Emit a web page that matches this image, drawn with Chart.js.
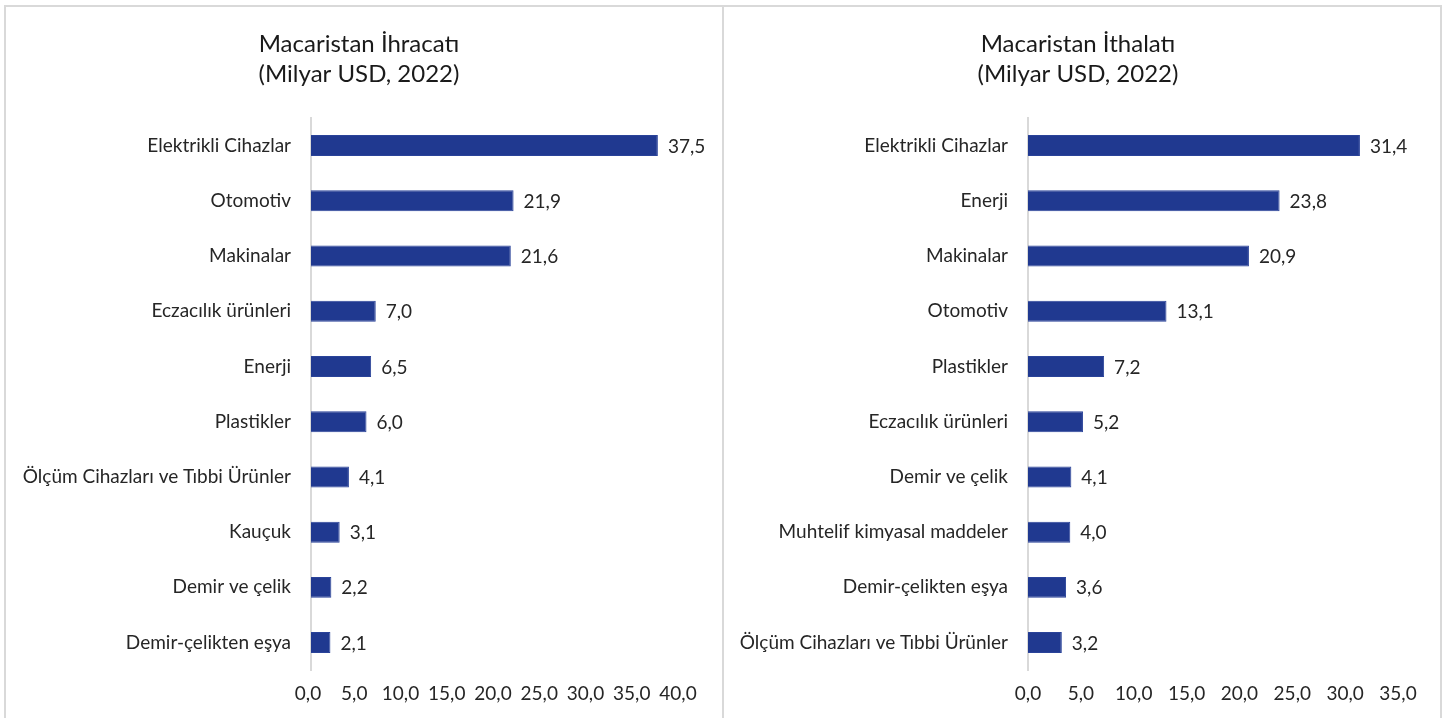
<!DOCTYPE html>
<html>
<head>
<meta charset="utf-8">
<script src="https://cdn.jsdelivr.net/npm/chart.js@4.4.1/dist/chart.umd.min.js"></script>
<style>
    body { margin: 0; background: #fff; overflow: hidden; }
    #frame { position: absolute; left: 4px; top: 5px; width: 1434px; height: 720px; border: 2px solid #d9d9d9; }
    #divider { position: absolute; left: 722px; top: 5px; width: 2px; height: 720px; background: #d9d9d9; }
    .box { position: absolute; top: 7px; height: 711px; }
    #leftBox { left: 6px; width: 716px; }
    #rightBox { left: 724px; width: 714px; }
</style>
</head>
<body>
<div id="frame"></div>
<div id="divider"></div>
<div class="box" id="leftBox"><canvas id="exportChart"></canvas></div>
<div class="box" id="rightBox"><canvas id="importChart"></canvas></div>

<script>
// Ihracat (export) data
var exportLabels = ['Elektrikli Cihazlar', 'Otomotiv', 'Makinalar', 'Eczacılık ürünleri', 'Enerji',
    'Plastikler', 'Ölçüm Cihazları ve Tıbbi Ürünler', 'Kauçuk', 'Demir ve çelik', 'Demir-çelikten eşya'];
var exportValues = [37.5, 21.9, 21.6, 7.0, 6.5, 6.0, 4.1, 3.1, 2.2, 2.1];

// Ithalat (import) data
var importLabels = ['Elektrikli Cihazlar', 'Enerji', 'Makinalar', 'Otomotiv', 'Plastikler',
    'Eczacılık ürünleri', 'Demir ve çelik', 'Muhtelif kimyasal maddeler', 'Demir-çelikten eşya',
    'Ölçüm Cihazları ve Tıbbi Ürünler'];
var importValues = [31.4, 23.8, 20.9, 13.1, 7.2, 5.2, 4.1, 4.0, 3.6, 3.2];

var exportMax = 40;
var importMax = 35;

var textColor = '#262626';
var fontFamily = 'Lato, "Liberation Sans", sans-serif';

function fmt(v) {
    return Number(v).toFixed(1).replace('.', ',');
}

// value labels at the end of each bar
var valueLabels = {
    id: 'valueLabels',
    afterDatasetsDraw: function(chart) {
        var ctx = chart.ctx;
        var meta = chart.getDatasetMeta(0);
        var data = chart.data.datasets[0].data;
        ctx.save();
        ctx.font = '19px ' + fontFamily;
        ctx.fillStyle = textColor;
        ctx.textAlign = 'left';
        ctx.textBaseline = 'middle';
        meta.data.forEach(function(bar, i) {
            ctx.fillText(fmt(data[i]), bar.x + 10, bar.y + 1);
        });
        ctx.restore();
    }
};

// two-line title centred on the panel (the built-in one follows the layout padding)
var panelTitle = {
    id: 'panelTitle',
    afterDraw: function(chart, args, opts) {
        var ctx = chart.ctx;
        ctx.save();
        ctx.font = '24px ' + fontFamily;
        ctx.fillStyle = '#1a1a1a';
        ctx.textAlign = 'center';
        ctx.textBaseline = 'middle';
        opts.lines.forEach(function(line, i) {
            ctx.fillText(line, chart.width / 2 + opts.shift, 37 + i * 30);
        });
        ctx.restore();
    }
};

function makeChart(id, title, titleShift, labels, values, max, axisWidth, rightPad, tickShift) {
    var ctx = document.getElementById(id).getContext('2d');
    return new Chart(ctx, {
        type: 'bar',
        data: {
            labels: labels,
            datasets: [{
                data: values,
                backgroundColor: '#203990',
                borderColor: '#2a4399',
                borderWidth: 1,
                categoryPercentage: 1.0,
                barPercentage: 0.38
            }]
        },
        options: {
            indexAxis: 'y',
            responsive: true,
            maintainAspectRatio: false,
            animation: false,
            layout: {
                padding: { left: 0, right: rightPad, top: 111, bottom: 1 }
            },
            plugins: {
                legend: { display: false },
                tooltip: { enabled: false },
                title: { display: false },
                panelTitle: { lines: title, shift: titleShift }
            },
            scales: {
                x: {
                    min: 0,
                    max: max,
                    grid: { display: false, drawTicks: false },
                    border: { display: false },
                    ticks: {
                        stepSize: 5,
                        padding: 12,
                        labelOffset: tickShift,
                        maxRotation: 0,
                        autoSkip: false,
                        color: textColor,
                        font: { family: fontFamily, size: 19 },
                        callback: function(v) { return fmt(v); }
                    }
                },
                y: {
                    grid: { display: false, drawTicks: false },
                    border: { display: true, color: '#d9d9d9', width: 2 },
                    ticks: {
                        padding: 20,
                        autoSkip: false,
                        color: textColor,
                        font: { family: fontFamily, size: 19 }
                    },
                    afterFit: function(scale) {
                        scale.width = axisWidth;
                    }
                }
            }
        },
        plugins: [valueLabels, panelTitle]
    });
}

makeChart('exportChart', ['Macaristan İhracatı', '(Milyar USD, 2022)'], -5,
    exportLabels, exportValues, exportMax, 305, 41, -3);
makeChart('importChart', ['Macaristan İthalatı', '(Milyar USD, 2022)'], -3,
    importLabels, importValues, importMax, 304, 40, 0);
</script>
</body>
</html>
